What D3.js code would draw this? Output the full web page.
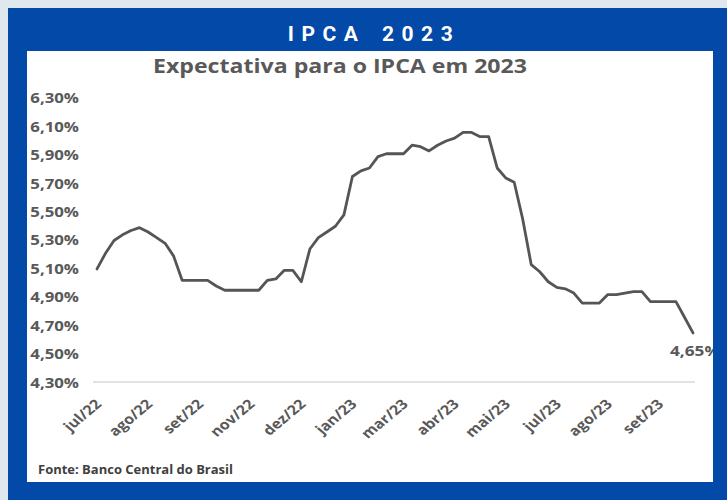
<!DOCTYPE html>
<html>
<head>
<meta charset="utf-8">
<script src="https://cdn.jsdelivr.net/npm/d3@7/dist/d3.min.js"></script>
<style>
  html, body { margin: 0; padding: 0; background: #dfe8ec; }
  svg { display: block; }
</style>
</head>
<body>
<svg id="chart" width="727" height="500"></svg>
<script>
// Weekly Focus expectation for IPCA 2023 (% a.a.), from jul/22 onwards
const ipcaExpect = [
  5.10, 5.21, 5.30, 5.34, 5.37, 5.39, 5.36, 5.32, 5.28, 5.19,
  5.02, 5.02, 5.02, 5.02, 4.98, 4.95, 4.95, 4.95, 4.95, 4.95,
  5.02, 5.03, 5.09, 5.09, 5.01, 5.24, 5.32, 5.36, 5.40, 5.48,
  5.75, 5.79, 5.81, 5.89, 5.91, 5.91, 5.91, 5.97, 5.96, 5.93,
  5.97, 6.00, 6.02, 6.06, 6.06, 6.03, 6.03, 5.81, 5.74, 5.71,
  5.45, 5.13, 5.08, 5.01, 4.97, 4.96, 4.93, 4.86, 4.86, 4.86,
  4.92, 4.92, 4.93, 4.94, 4.94, 4.87, 4.87, 4.87, 4.87, 4.76,
  4.65
];
// Category labels shown on the horizontal axis, one every six weeks
const monthLabels = ["jul/22", "ago/22", "set/22", "nov/22", "dez/22", "jan/23",
                     "mar/23", "abr/23", "mai/23", "jul/23", "ago/23", "set/23"];
const labelStep = 6;
const yTicks = [4.3, 4.5, 4.7, 4.9, 5.1, 5.3, 5.5, 5.7, 5.9, 6.1, 6.3];

const fmtPct = v => v.toFixed(2).replace(".", ",") + "%";
const textFont = "'Open Sans', sans-serif";
const grey = "#595959";

const svg = d3.select("#chart");

// frame
svg.append("rect").attr("x", 8).attr("y", 8).attr("width", 719).attr("height", 492).attr("fill", "#0349a8");
svg.append("rect").attr("x", 27).attr("y", 51).attr("width", 686).attr("height", 431).attr("fill", "#ffffff");

svg.append("text")
  .attr("x", 374).attr("y", 41)
  .attr("text-anchor", "middle")
  .attr("fill", "#ffffff")
  .attr("font-family", "Roboto, 'Liberation Sans', sans-serif")
  .attr("font-weight", 700)
  .attr("font-size", 21)
  .attr("letter-spacing", 7.5)
  .attr("word-spacing", 4)
  .text("IPCA 2023");

svg.append("text")
  .attr("x", 340).attr("y", 73)
  .attr("text-anchor", "middle")
  .attr("fill", grey)
  .attr("font-family", textFont)
  .attr("font-weight", 700)
  .attr("font-size", 20)
  .attr("textLength", 374)
  .attr("lengthAdjust", "spacingAndGlyphs")
  .text("Expectativa para o IPCA em 2023");

const x = d3.scaleLinear().domain([0, ipcaExpect.length - 1]).range([97, 693]);
const y = d3.scaleLinear().domain([4.3, 6.3]).range([382.7, 98.3]);

const plot = svg.append("g");

// y axis labels (slightly widened lettering)
const yAxis = plot.append("g")
  .attr("transform", "translate(79,0)")
  .call(d3.axisLeft(y).tickValues(yTicks).tickFormat(fmtPct).tickSize(0).tickPadding(0));
yAxis.select(".domain").remove();
yAxis.selectAll("text")
  .attr("x", 0)
  .attr("transform", "scale(1.2,1)")
  .attr("fill", grey)
  .attr("font-family", textFont)
  .attr("font-weight", 700)
  .attr("font-size", 14);

// x axis
const tickIdx = monthLabels.map((_, i) => i * labelStep);
const xAxis = plot.append("g")
  .attr("transform", "translate(0,382)")
  .call(d3.axisBottom(x).tickValues(tickIdx).tickFormat((d, i) => monthLabels[i]).tickSize(0).tickPadding(0));
xAxis.select(".domain")
  .attr("d", `M${x(0) - 4},0H${x(ipcaExpect.length - 1) + 2}`)
  .attr("stroke", "#d9d9d9").attr("stroke-width", 1.5);
xAxis.selectAll("text")
  .attr("y", 0).attr("dy", 0)
  .attr("text-anchor", "end")
  .attr("transform", "translate(5,23) scale(1.2,1) rotate(-45)")
  .attr("fill", grey)
  .attr("font-family", textFont)
  .attr("font-weight", 700)
  .attr("font-size", 13.5);

// series line
const line = d3.line().x((d, i) => x(i)).y(d => y(d));
plot.append("path")
  .datum(ipcaExpect)
  .attr("d", line)
  .attr("fill", "none")
  .attr("stroke", "#555555")
  .attr("stroke-width", 2.8)
  .attr("stroke-linejoin", "round")
  .attr("stroke-linecap", "round");

// value label on last point
const last = ipcaExpect.length - 1;
plot.append("text")
  .attr("x", 670).attr("y", y(ipcaExpect[last]) + 23)
  .attr("fill", grey)
  .attr("font-family", textFont)
  .attr("font-weight", 700)
  .attr("font-size", 14)
  .attr("textLength", 50)
  .attr("lengthAdjust", "spacingAndGlyphs")
  .text(fmtPct(ipcaExpect[last]));

// source
svg.append("text")
  .attr("x", 38).attr("y", 474)
  .attr("fill", "#404040")
  .attr("font-family", textFont)
  .attr("font-weight", 700)
  .attr("font-size", 11.5)
  .attr("textLength", 195)
  .attr("lengthAdjust", "spacingAndGlyphs")
  .text("Fonte: Banco Central do Brasil");

// right-hand frame band drawn over the plot so the end label is cut off at the edge
svg.append("rect").attr("x", 713).attr("y", 8).attr("width", 14).attr("height", 492).attr("fill", "#0349a8");
</script>
</body>
</html>
